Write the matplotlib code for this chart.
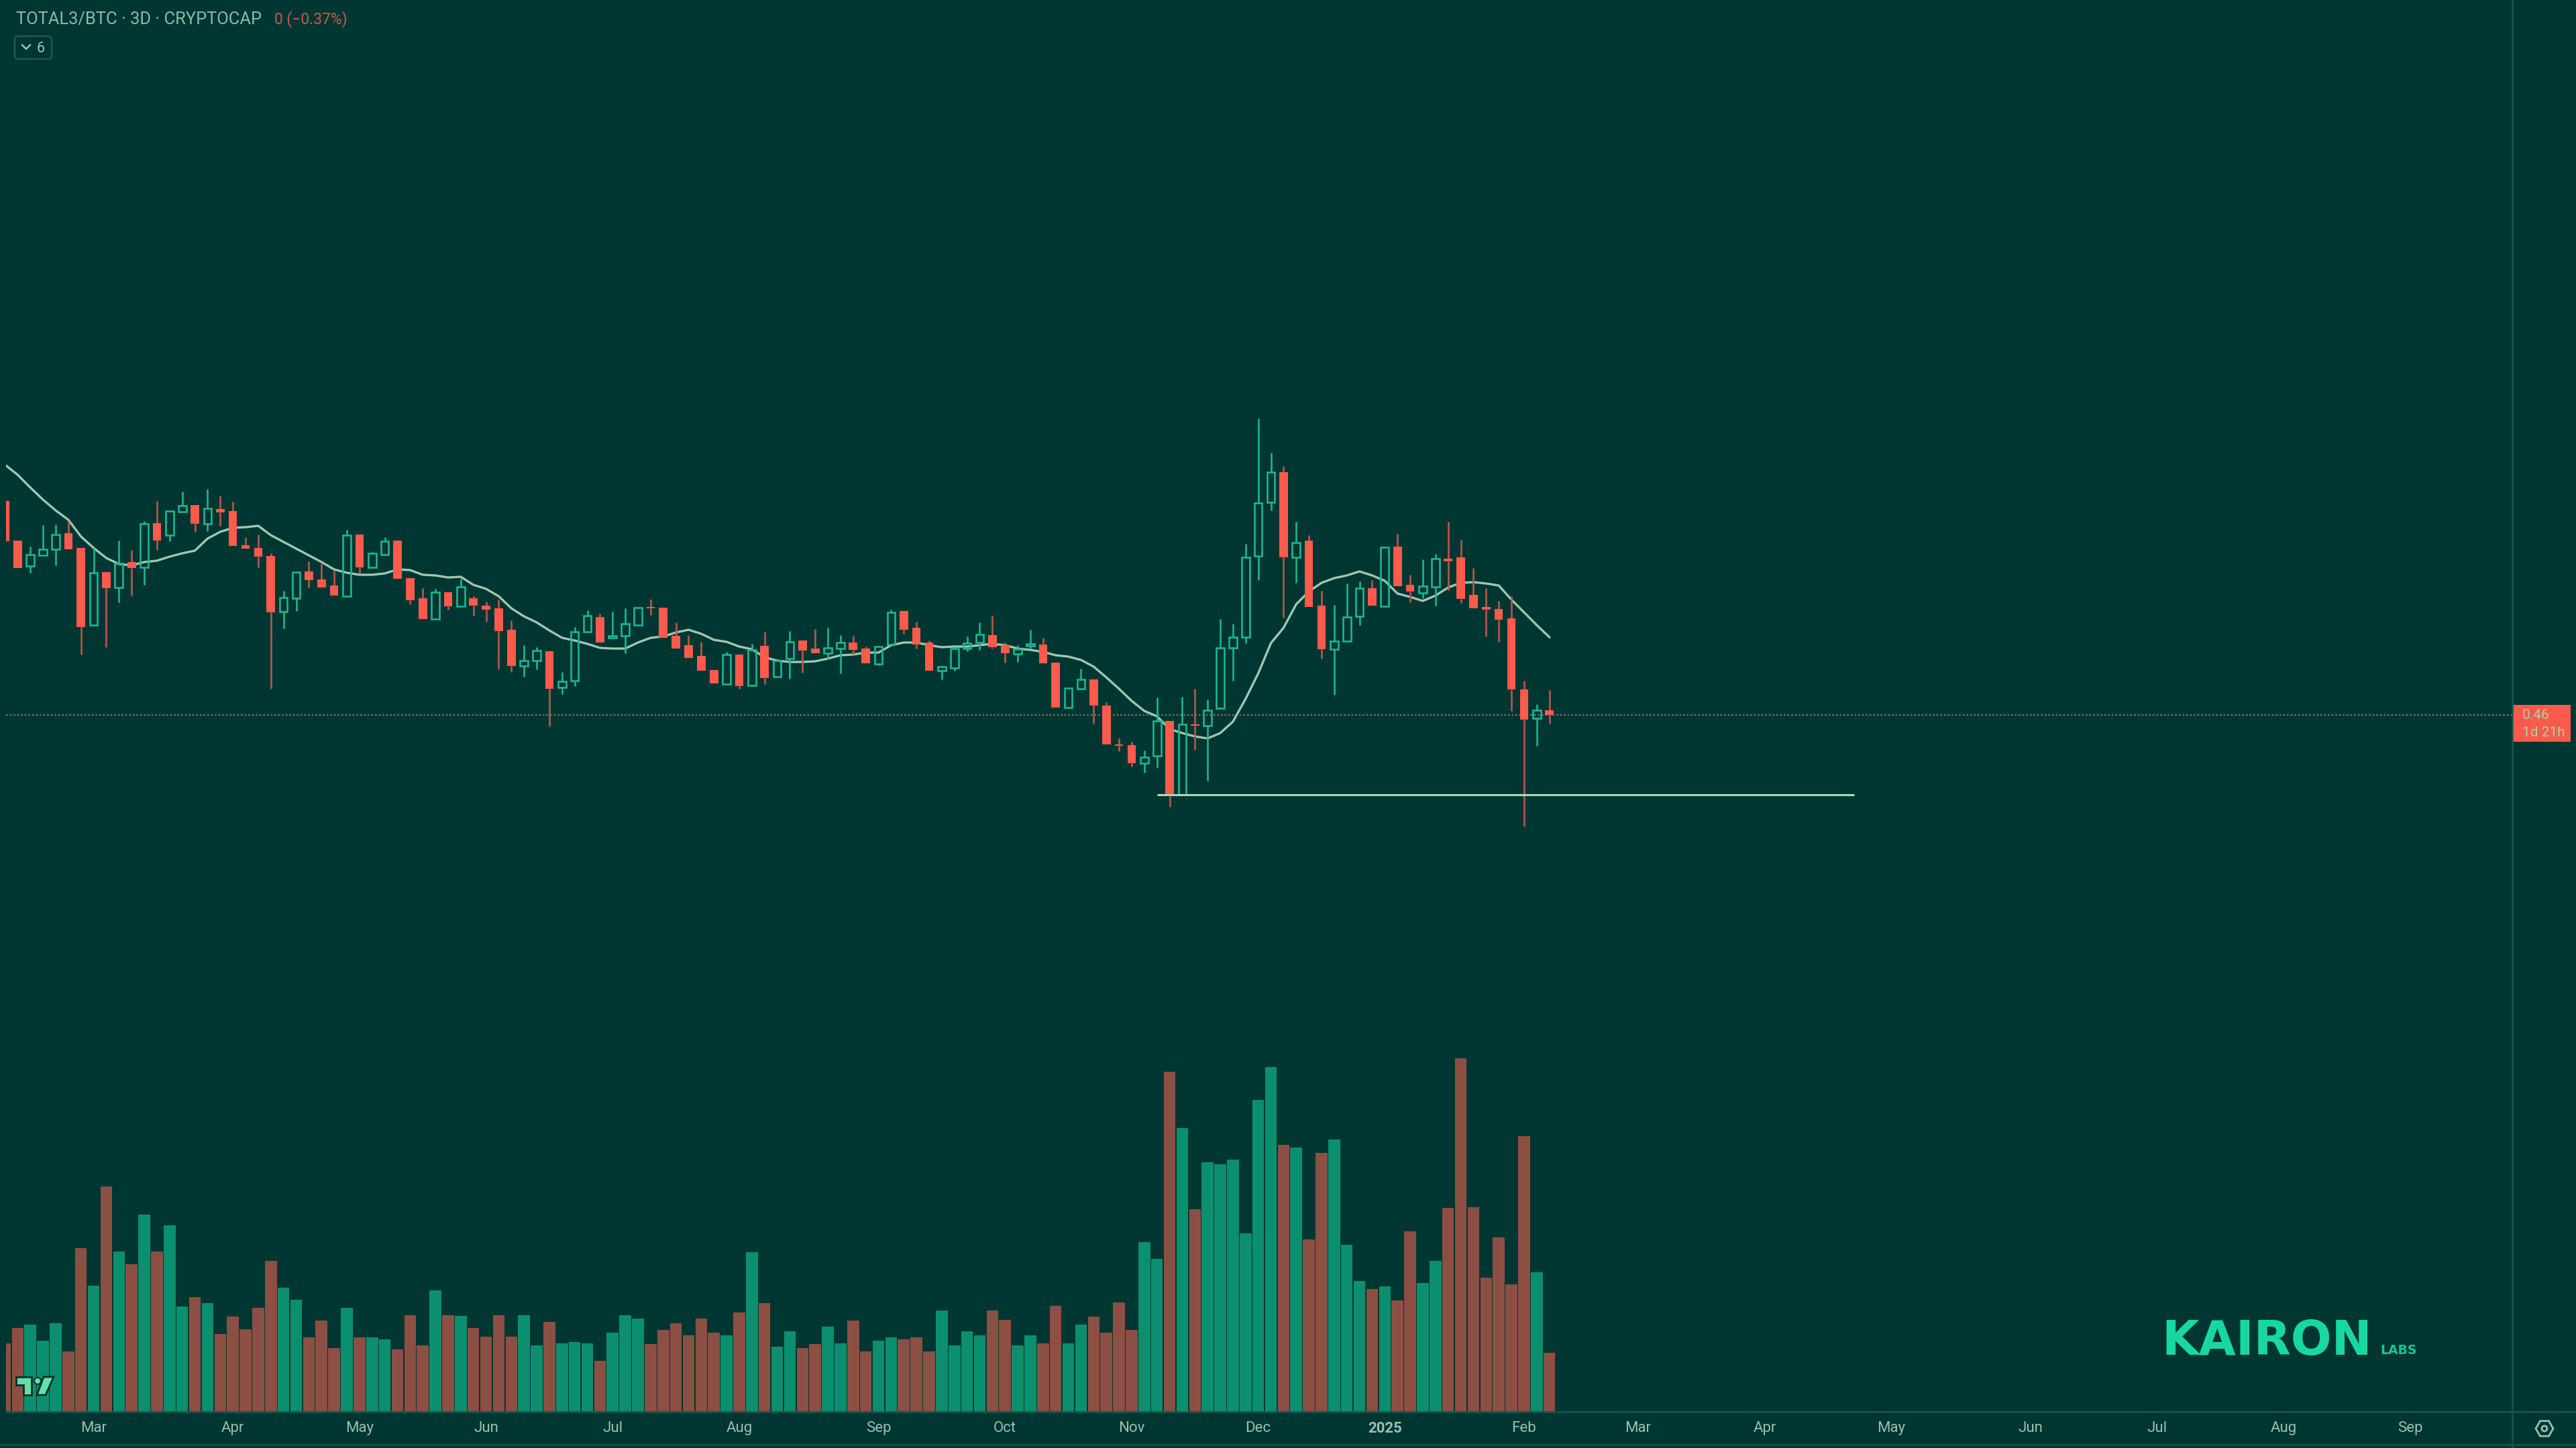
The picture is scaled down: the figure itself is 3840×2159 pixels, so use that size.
import matplotlib
matplotlib.use("Agg")
import numpy as np
import matplotlib.pyplot as plt
from matplotlib.patches import FancyBboxPatch, Polygon, Circle, Rectangle, RegularPolygon

# values, price scale has no ticks so units are chart points
opens = [1412, 1353, 1315, 1331, 1340, 1364, 1342, 1227, 1306, 1283, 1321, 1313, 1379, 1361, 1396, 1406,
         1378, 1400, 1397, 1346, 1342, 1330, 1247, 1267, 1307, 1295, 1286, 1270, 1362, 1313, 1332, 1353,
         1297, 1267, 1236, 1276, 1255, 1267, 1256, 1252, 1220, 1166, 1174, 1188, 1134, 1144, 1217, 1239,
         1208, 1211, 1227, 1254, 1253, 1211, 1197, 1181, 1160, 1139, 1183, 1137, 1196, 1150, 1177, 1204,
         1192, 1185, 1192, 1201, 1192, 1169, 1198, 1248, 1223, 1201, 1159, 1163, 1192, 1201, 1212, 1197,
         1184, 1196, 1198, 1171, 1104, 1132, 1146, 1107, 1049, 1048, 1021, 1032, 1084, 974, 1079, 1077,
         1103, 1193, 1209, 1330, 1410, 1455, 1328, 1353, 1256, 1191, 1203, 1240, 1282, 1255, 1344, 1287,
         1275, 1284, 1326, 1328, 1272, 1254, 1251, 1237, 1131, 1088, 1100]
highs = [1412, 1353, 1344, 1376, 1377, 1382, 1342, 1342, 1306, 1353, 1339, 1382, 1412, 1397, 1426, 1406,
         1430, 1420, 1411, 1358, 1362, 1334, 1278, 1306, 1322, 1320, 1309, 1369, 1362, 1336, 1358, 1353,
         1297, 1282, 1281, 1276, 1296, 1270, 1262, 1265, 1234, 1197, 1194, 1188, 1157, 1224, 1249, 1244,
         1247, 1252, 1253, 1266, 1253, 1231, 1212, 1202, 1160, 1187, 1183, 1199, 1217, 1174, 1218, 1204,
         1221, 1223, 1212, 1211, 1195, 1195, 1250, 1248, 1232, 1204, 1167, 1194, 1210, 1231, 1241, 1201,
         1197, 1220, 1208, 1171, 1133, 1162, 1146, 1112, 1058, 1053, 1040, 1119, 1084, 1120, 1132, 1116,
         1236, 1229, 1348, 1535, 1484, 1464, 1381, 1361, 1278, 1257, 1289, 1292, 1294, 1344, 1363, 1302,
         1325, 1333, 1381, 1354, 1312, 1282, 1263, 1270, 1144, 1109, 1130]
lows = [1352, 1312, 1305, 1331, 1316, 1340, 1183, 1227, 1194, 1261, 1271, 1287, 1339, 1352, 1396, 1366,
        1367, 1375, 1345, 1341, 1313, 1132, 1222, 1248, 1283, 1283, 1271, 1270, 1304, 1313, 1332, 1296,
        1258, 1236, 1236, 1250, 1255, 1241, 1232, 1161, 1157, 1150, 1161, 1076, 1124, 1136, 1217, 1201,
        1208, 1185, 1227, 1242, 1208, 1192, 1178, 1159, 1140, 1139, 1132, 1136, 1139, 1150, 1147, 1156,
        1185, 1177, 1155, 1183, 1170, 1167, 1198, 1214, 1192, 1159, 1146, 1159, 1188, 1190, 1192, 1171,
        1172, 1192, 1170, 1104, 1104, 1132, 1080, 1049, 1039, 1016, 1007, 1014, 956, 974, 1041, 995,
        1103, 1144, 1200, 1294, 1398, 1238, 1290, 1254, 1177, 1123, 1203, 1227, 1256, 1255, 1285, 1261,
        1267, 1256, 1279, 1260, 1252, 1210, 1202, 1099, 927, 1047, 1080]
closes = [1352, 1312, 1332, 1340, 1362, 1340, 1224, 1305, 1282, 1319, 1312, 1378, 1353, 1397, 1405, 1378,
          1401, 1395, 1345, 1341, 1329, 1246, 1268, 1306, 1294, 1283, 1271, 1361, 1313, 1334, 1352, 1296,
          1264, 1236, 1276, 1255, 1284, 1256, 1250, 1218, 1166, 1174, 1189, 1132, 1143, 1217, 1241, 1201,
          1211, 1229, 1253, 1252, 1208, 1192, 1178, 1159, 1140, 1183, 1136, 1190, 1148, 1174, 1202, 1189,
          1185, 1193, 1201, 1190, 1170, 1195, 1246, 1220, 1198, 1159, 1165, 1192, 1200, 1213, 1194, 1185,
          1191, 1199, 1170, 1104, 1133, 1146, 1107, 1049, 1047, 1021, 1030, 1084, 972, 1079, 1077, 1100,
          1193, 1209, 1328, 1409, 1455, 1328, 1350, 1254, 1191, 1203, 1239, 1282, 1256, 1343, 1285, 1277,
          1285, 1326, 1322, 1266, 1252, 1250, 1235, 1131, 1086, 1100, 1093]
ma_line = [1466, 1451, 1432, 1414, 1398, 1384, 1359, 1342, 1327, 1318, 1316, 1321, 1323, 1329, 1334, 1338,
           1356, 1366, 1372, 1373, 1375, 1361, 1351, 1341, 1331, 1321, 1310, 1305, 1302, 1302, 1304, 1310,
           1309, 1302, 1301, 1298, 1299, 1287, 1281, 1270, 1252, 1240, 1231, 1219, 1208, 1204, 1199, 1193,
           1192, 1192, 1201, 1208, 1210, 1216, 1220, 1214, 1205, 1202, 1195, 1191, 1179, 1174, 1172, 1172,
           1173, 1177, 1182, 1183, 1186, 1186, 1197, 1201, 1201, 1197, 1194, 1195, 1195, 1197, 1199, 1197,
           1192, 1190, 1187, 1182, 1180, 1175, 1165, 1149, 1132, 1114, 1099, 1091, 1072, 1066, 1061, 1058,
           1066, 1083, 1117, 1155, 1200, 1223, 1258, 1277, 1290, 1297, 1301, 1307, 1301, 1293, 1274, 1269,
           1263, 1271, 1283, 1290, 1291, 1289, 1286, 1265, 1246, 1227, 1209]
volumes = [102, 125, 130, 106, 132, 90, 244, 188, 336, 239, 220, 294, 239, 278, 157, 171,
           162, 116, 142, 123, 155, 225, 185, 167, 111, 136, 95, 155, 111, 111, 108, 93,
           144, 99, 181, 144, 143, 125, 112, 144, 112, 144, 99, 134, 102, 104, 102, 76,
           118, 144, 139, 101, 122, 132, 114, 139, 118, 114, 148, 238, 162, 97, 120, 95,
           101, 127, 102, 136, 90, 106, 111, 108, 111, 90, 151, 99, 120, 114, 151, 137,
           99, 114, 102, 158, 102, 130, 142, 118, 163, 122, 253, 228, 507, 423, 302, 372,
           369, 376, 266, 465, 514, 398, 394, 257, 386, 406, 249, 195, 183, 187, 166, 269,
           192, 225, 304, 527, 305, 200, 260, 190, 411, 208, 88]

month_ticks = [7, 18, 28, 38, 48, 58, 69, 79, 89, 99, 109, 120, 129, 139, 149, 160, 170, 180, 190]
month_labels = ["Mar", "Apr", "May", "Jun", "Jul", "Aug", "Sep", "Oct", "Nov", "Dec", "2025", "Feb",
                "Mar", "Apr", "May", "Jun", "Jul", "Aug", "Sep"]

last_price = 1093
support_level = 974
support_start, support_end = 91.0, 146.1

W, H = 3840, 2159
BAR_STEP = 18.87
FIRST_BAR = 7.5
PANE_LEFT = 8.6
BASE_Y = 2105
VOL_TOP = 1500

BG = "#003632"
RED = "#fb5a4c"
RED_WICK = "#b7574a"
GREEN = "#1db591"
VOL_RED = "#8c4f44"
VOL_GREEN = "#0c8f6e"
MA_COLOR = "#9fc8b0"
SUPPORT_COLOR = "#aed6b9"
LABEL_COLOR = "#9dbfae"
FRAME = "#14564c"

plt.rcParams["font.family"] = ["Roboto", "DejaVu Sans"]

fig = plt.figure(figsize=(W / 100, H / 100), dpi=100, facecolor=BG)
# panes start a little in from the edge, the first bar gets cut by that
xlim = ((PANE_LEFT - FIRST_BAR) / BAR_STEP, (W - FIRST_BAR) / BAR_STEP)
pane_x = PANE_LEFT / W
pane_w = 1 - pane_x

ax = fig.add_axes([pane_x, 0, pane_w, 1], facecolor="none")
ax.set_xlim(*xlim)
ax.set_ylim(0, H)
ax.axis("off")

ax_vol = fig.add_axes([pane_x, (H - BASE_Y) / H, pane_w, (BASE_Y - VOL_TOP) / H], facecolor="none")
ax_vol.set_xlim(*xlim)
ax_vol.set_ylim(0, BASE_Y - VOL_TOP)
ax_vol.set_yticks([])
for name in ["top", "left", "right"]:
    ax_vol.spines[name].set_visible(False)
ax_vol.spines["bottom"].set_color(FRAME)
ax_vol.spines["bottom"].set_linewidth(2)
ax_vol.set_xticks(month_ticks)
ax_vol.set_xticklabels(month_labels, fontsize=16, color=LABEL_COLOR)
ax_vol.tick_params(axis="x", length=0, pad=10)
ax_vol.get_xticklabels()[10].set_fontweight("bold")

idx = np.arange(len(opens))
o, h, l, c = map(np.array, (opens, highs, lows, closes))
up = c >= o
top = np.maximum(o, c)
bot = np.minimum(o, c)

# last price and MA go under the candles
ax.hlines(last_price, xlim[0], (3745 - FIRST_BAR) / BAR_STEP, colors="#84705f", linewidth=1.6,
          linestyles=(0, (1.2, 1.3)), zorder=1)
ax.plot(idx, ma_line, color=MA_COLOR, linewidth=2.4, zorder=2, solid_joinstyle="round")

wick_colors = np.where(up, GREEN, RED_WICK)
ax.vlines(idx, top, h, colors=wick_colors, linewidth=1.9, zorder=3)
ax.vlines(idx, l, bot, colors=wick_colors, linewidth=1.9, zorder=3)
ax.bar(idx[~up], (top - bot)[~up], bottom=bot[~up], width=0.67, color=RED, zorder=4)
ax.bar(idx[up], (top - bot)[up], bottom=bot[up], width=0.62, facecolor="none", edgecolor=GREEN,
       linewidth=1.9, zorder=4)

ax.hlines(support_level, support_start, support_end, colors=SUPPORT_COLOR, linewidth=2.2, zorder=5)

ax_vol.bar(idx, volumes, width=0.93, color=np.where(up, VOL_GREEN, VOL_RED), zorder=2)

# chrome on top, this one is in screen pixels
ov = fig.add_axes([0, 0, 1, 1], facecolor="none")
ov.set_xlim(0, W)
ov.set_ylim(H, 0)
ov.axis("off")

ov.plot([3745, 3745], [0, H], color=FRAME, linewidth=1.8)
ov.plot([0, W], [2154, 2154], color=FRAME, linewidth=1.8)

ov.text(24, 29, "TOTAL3/BTC · 3D · CRYPTOCAP", color="#8dbba8", fontsize=18.4, va="center", ha="left")
ov.text(409, 29, "0 (−0.37%)", color="#c9584b", fontsize=16.5, va="center", ha="left")
ov.add_patch(FancyBboxPatch((22, 54), 55, 34, boxstyle="round,pad=0,rounding_size=5",
                            facecolor="none", edgecolor="#1b5a50", linewidth=1.8))
ov.plot([33, 39, 45], [67, 73, 67], color="#9dc7b4", linewidth=1.8)
ov.text(55, 72, "6", color="#9dc7b4", fontsize=15.5, va="center", ha="left")

# price tag
ov.add_patch(Rectangle((3746, 1051), 86, 55, facecolor=RED, edgecolor="none"))
ov.text(3760, 1067, "0.46", color="#a8d4a6", fontsize=15, va="center", ha="left")
ov.text(3760, 1092, "1d 21h", color="#a8d4a6", fontsize=15, va="center", ha="left")

# tradingview mark
TV_GREEN = "#5fe2a6"
TV_EDGE = "#0b2e2a"
ov.add_patch(Polygon([(24, 2053), (47, 2053), (47, 2080), (35, 2080), (35, 2065), (24, 2065)],
                     facecolor=TV_GREEN, edgecolor=TV_EDGE, linewidth=2, zorder=6))
ov.add_patch(Polygon([(65, 2053), (80, 2053), (68, 2080), (55, 2080)],
                     facecolor=TV_GREEN, edgecolor=TV_EDGE, linewidth=2, zorder=6))
ov.add_patch(Circle((56, 2059), 5, facecolor=TV_GREEN, edgecolor=TV_EDGE, linewidth=1.5, zorder=6))

# kairon watermark
ov.text(3222, 2020, "KAIRON", color="#17d9a0", fontsize=51.5, fontweight="bold", family="DejaVu Sans",
        va="baseline", ha="left")
ov.text(3548, 2019, "LABS", color="#17c592", fontsize=13.5, fontweight="bold", family="DejaVu Sans",
        va="baseline", ha="left")

# settings icon
ov.add_patch(RegularPolygon((3793, 2130), 6, radius=13, orientation=np.pi / 2, facecolor="none",
                            edgecolor="#9dbfae", linewidth=2))
ov.add_patch(Circle((3793, 2130), 4, facecolor="none", edgecolor="#9dbfae", linewidth=2))

fig.savefig("out.png", dpi=100, facecolor=BG)
